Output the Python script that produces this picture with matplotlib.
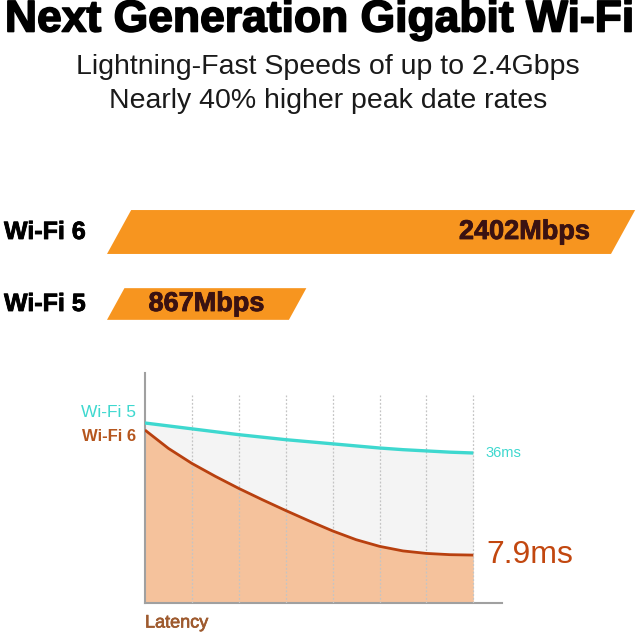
import matplotlib.pyplot as plt
from matplotlib.patches import Polygon
import matplotlib.patheffects as pe

# --- data ---
speed_labels = ["Wi-Fi 6", "Wi-Fi 5"]
speed_mbps = [2402, 867]
speed_text = ["2402Mbps", "867Mbps"]

# latency curves (relative units, half-grid steps)
lat_x = [0, 0.5, 1, 1.5, 2, 2.5, 3, 3.5, 4, 4.5, 5, 5.5, 6, 6.5, 7]
lat_wifi5 = [43.2, 42.5, 41.8, 41.1, 40.4, 39.8, 39.2, 38.7, 38.2, 37.7, 37.2, 36.8, 36.5, 36.2, 36.0]
lat_wifi6 = [41.5, 37.1, 33.5, 30.4, 27.5, 24.8, 22.2, 19.7, 17.3, 15.2, 13.6, 12.5, 11.9, 11.6, 11.5]
grid_x = [1, 2, 3, 4, 5, 6, 7]

W, H = 640, 636
FONT = "Liberation Sans"
ORANGE = "#F7951F"
TEAL = "#3ED8CF"
RUST = "#B8400F"

fig = plt.figure(figsize=(W / 100, H / 100), dpi=100)
fig.patch.set_facecolor("white")


def px_axes(left, top, right, bottom):
    # axes placed by pixel box (top-left origin)
    return fig.add_axes([left / W, 1 - bottom / H, (right - left) / W, (bottom - top) / H])


def heavy(color, w):
    return [pe.withStroke(linewidth=w, foreground=color)]


# titles
fig.text(320 / W, 1 - 20 / H, "Next Generation Gigabit Wi-Fi", ha="center", va="center",
         fontsize=32, fontweight="bold", family=FONT, color="black",
         path_effects=heavy("black", 1.2))
fig.text(328 / W, 1 - 67 / H, "Lightning-Fast Speeds of up to 2.4Gbps", ha="center", va="center",
         fontsize=20.5, family=FONT, color="#1a1a1a")
fig.text(328 / W, 1 - 101 / H, "Nearly 40% higher peak date rates", ha="center", va="center",
         fontsize=20.5, family=FONT, color="#1a1a1a")

# --- speed bars ---
ax1 = px_axes(0, 196, 640, 340)
px_per_mbps = (611 - 107) / 2402
ax1.set_xlim(-107 / px_per_mbps, (640 - 107) / px_per_mbps)
ax1.set_ylim(1.5, -0.5)
ax1.axis("off")
px_per_unit_y = 144 / 2.0

bar_heights = [0.61, 0.44]
for i, (lab, val, txt) in enumerate(zip(speed_labels, speed_mbps, speed_text)):
    h = bar_heights[i]
    slant = 0.55 * h * px_per_unit_y / px_per_mbps
    y0, y1 = i + h / 2, i - h / 2
    poly = Polygon([(0, y0), (val, y0), (val + slant, y1), (slant, y1)],
                   closed=True, facecolor=ORANGE, edgecolor="none")
    ax1.add_patch(poly)
    ax1.text(val + slant / 2 - 33 / px_per_mbps, i, txt, ha="right", va="center",
             fontsize=19.5, fontweight="bold", family=FONT, color="#3a1212",
             path_effects=heavy("#3a1212", 0.6))
    ax1.text(-103 / px_per_mbps, i, lab, ha="left", va="center",
             fontsize=18, fontweight="bold", family=FONT, color="black",
             path_effects=heavy("black", 0.6))

# --- latency chart ---
ax2 = px_axes(145, 373, 502, 603)
ax2.set_xlim(0, (502 - 145) / 46.9)
ax2.set_ylim(0, 230 * 0.24)
for s in ["top", "right"]:
    ax2.spines[s].set_visible(False)
for s in ["left", "bottom"]:
    ax2.spines[s].set_color("#a0a0a0")
    ax2.spines[s].set_linewidth(1.5)
ax2.set_xticks([])
ax2.set_yticks([])

ax2.vlines(grid_x, 0, 50, colors="#c4c4c4", linestyles=(0, (1.5, 1.5)), linewidth=0.9, zorder=3)
ax2.fill_between(lat_x, lat_wifi6, lat_wifi5, color="#f4f4f4", linewidth=0, zorder=1)
ax2.fill_between(lat_x, 0, lat_wifi6, color="#F5C29C", linewidth=0, zorder=2)
ax2.plot(lat_x, lat_wifi5, color=TEAL, linewidth=2.4, zorder=4, solid_capstyle="butt",
         solid_joinstyle="round")
ax2.plot(lat_x, lat_wifi6, color=RUST, linewidth=2.0, zorder=4, solid_capstyle="butt",
         solid_joinstyle="round")

ax2.text(-0.025, 0.83, "Wi-Fi 5", transform=ax2.transAxes, ha="right", va="center",
         fontsize=12.5, family=FONT, color=TEAL)
ax2.text(-0.025, 0.726, "Wi-Fi 6", transform=ax2.transAxes, ha="right", va="center",
         fontsize=12, fontweight="bold", family=FONT, color="#B5561E")
ax2.text(lat_x[-1] + 0.27, lat_wifi5[-1], "36ms", ha="left", va="center",
         fontsize=10.5, family=FONT, color=TEAL)
ax2.text(lat_x[-1] + 0.28, lat_wifi6[-1], "7.9ms", ha="left", va="center",
         fontsize=23, family=FONT, color="#C2470F")
ax2.text(0, -0.087, "Latency", transform=ax2.transAxes, ha="left", va="center",
         fontsize=13, family=FONT, color="#9E5A2E", path_effects=heavy("#9E5A2E", 0.5))

fig.savefig("out.png", dpi=100, facecolor="white")
